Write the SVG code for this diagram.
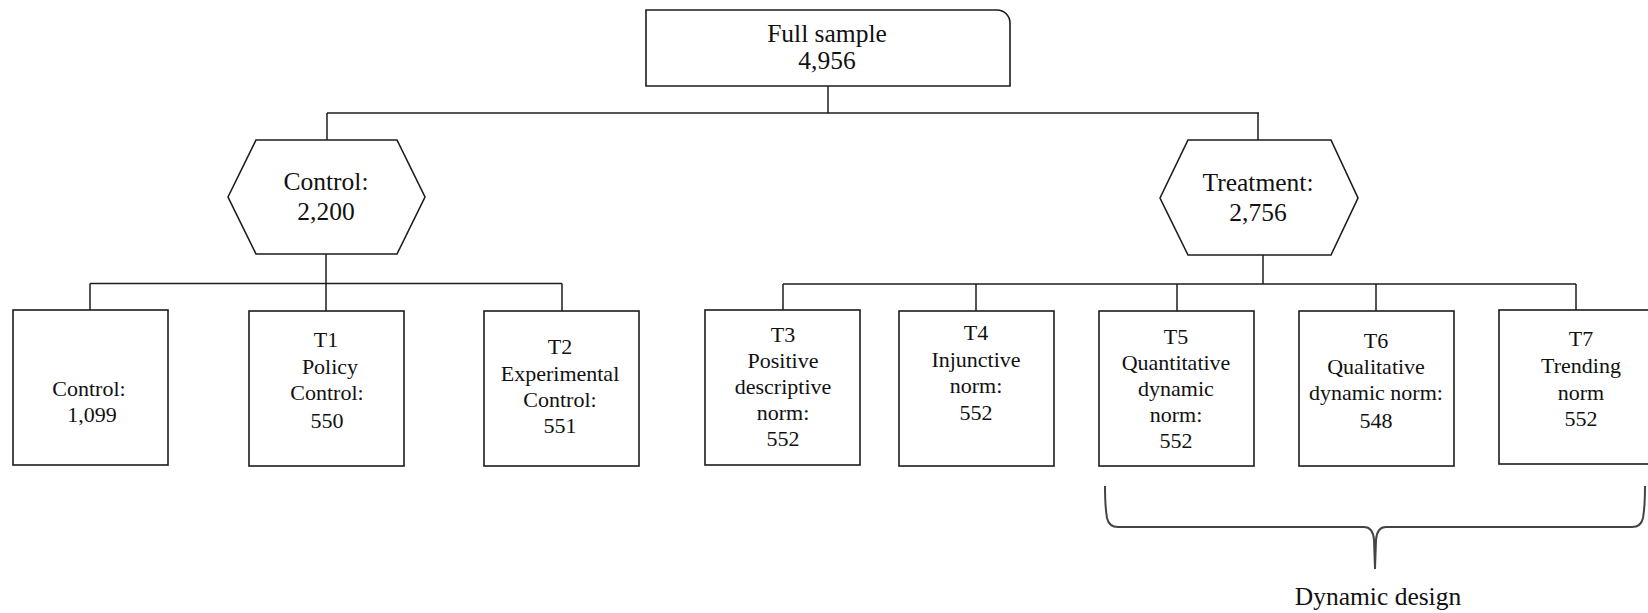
<svg xmlns="http://www.w3.org/2000/svg" width="1648" height="613" viewBox="0 0 1648 613">
<style>
  .shape { fill: #ffffff; stroke: #1c1c1c; stroke-width: 1.6; }
  .conn { fill: none; stroke: #1c1c1c; stroke-width: 1.5; }
  .brace { fill: none; stroke: #444444; stroke-width: 2; }
  text { font-family: "Liberation Serif", "Times New Roman", serif; fill: #111111; text-anchor: middle; }
  .h { font-size: 25.5px; }
  .b { font-size: 22px; }
</style>
<rect width="1648" height="613" fill="#ffffff"/>

<g id="connectors">
  <line class="conn" x1="828" y1="86" x2="828" y2="113"/>
  <line class="conn" x1="327" y1="113" x2="1259" y2="113"/>
  <line class="conn" x1="327" y1="113" x2="327" y2="140"/>
  <line class="conn" x1="1258" y1="113" x2="1258" y2="140"/>
  <line class="conn" x1="326" y1="254" x2="326" y2="311"/>
  <line class="conn" x1="90" y1="283.5" x2="562" y2="283.5"/>
  <line class="conn" x1="90" y1="283.5" x2="90" y2="310"/>
  <line class="conn" x1="562" y1="283.5" x2="562" y2="311"/>
  <line class="conn" x1="1263" y1="255" x2="1263" y2="284"/>
  <line class="conn" x1="783" y1="284" x2="1576" y2="284"/>
  <line class="conn" x1="783" y1="284" x2="783" y2="310"/>
  <line class="conn" x1="976" y1="284" x2="976" y2="311"/>
  <line class="conn" x1="1177" y1="284" x2="1177" y2="311"/>
  <line class="conn" x1="1376" y1="284" x2="1376" y2="311"/>
  <line class="conn" x1="1576" y1="284" x2="1576" y2="310"/>
</g>

<g id="full-sample">
  <path class="shape" d="M646,10 H997 A13,13 0 0 1 1010,23 V86 H646 Z"/>
  <text class="h" x="827" y="42">Full sample</text>
  <text class="h" x="827" y="69">4,956</text>
</g>

<g id="control-group">
  <polygon class="shape" points="228,197 256,140 397,140 425,197 397,254 256,254"/>
  <text class="h" x="326" y="190">Control:</text>
  <text class="h" x="326" y="220">2,200</text>
</g>

<g id="treatment-group">
  <polygon class="shape" points="1160,198 1188,140 1331,140 1358,198 1331,255 1188,255"/>
  <text class="h" x="1258" y="191">Treatment:</text>
  <text class="h" x="1258" y="221">2,756</text>
</g>

<g id="control">
  <rect class="shape" x="13" y="310" width="155" height="155"/>
  <text class="b" x="89" y="396">Control:</text>
  <text class="b" x="92" y="422">1,099</text>
</g>

<g id="t1">
  <rect class="shape" x="249" y="311" width="155" height="155"/>
  <text class="b" x="326" y="347">T1</text>
  <text class="b" x="330" y="374">Policy</text>
  <text class="b" x="327" y="400">Control:</text>
  <text class="b" x="327" y="428">550</text>
</g>

<g id="t2">
  <rect class="shape" x="484" y="311" width="155" height="155"/>
  <text class="b" x="560" y="354">T2</text>
  <text class="b" x="560" y="381">Experimental</text>
  <text class="b" x="560" y="407">Control:</text>
  <text class="b" x="560" y="433">551</text>
</g>

<g id="t3">
  <rect class="shape" x="705" y="310" width="155" height="155"/>
  <text class="b" x="783" y="342">T3</text>
  <text class="b" x="783" y="368">Positive</text>
  <text class="b" x="783" y="394">descriptive</text>
  <text class="b" x="783" y="420">norm:</text>
  <text class="b" x="783" y="446">552</text>
</g>

<g id="t4">
  <rect class="shape" x="899" y="311" width="155" height="155"/>
  <text class="b" x="976" y="340">T4</text>
  <text class="b" x="976" y="367">Injunctive</text>
  <text class="b" x="976" y="393">norm:</text>
  <text class="b" x="976" y="420">552</text>
</g>

<g id="t5">
  <rect class="shape" x="1099" y="311" width="155" height="155"/>
  <text class="b" x="1176" y="344">T5</text>
  <text class="b" x="1176" y="370">Quantitative</text>
  <text class="b" x="1176" y="396">dynamic</text>
  <text class="b" x="1176" y="422">norm:</text>
  <text class="b" x="1176" y="448">552</text>
</g>

<g id="t6">
  <rect class="shape" x="1299" y="311" width="155" height="155"/>
  <text class="b" x="1376" y="348">T6</text>
  <text class="b" x="1376" y="374">Qualitative</text>
  <text class="b" x="1376" y="400">dynamic norm:</text>
  <text class="b" x="1376" y="428">548</text>
</g>

<g id="t7">
  <rect class="shape" x="1499" y="310" width="156" height="154"/>
  <text class="b" x="1581" y="346">T7</text>
  <text class="b" x="1581" y="373">Trending</text>
  <text class="b" x="1581" y="400">norm</text>
  <text class="b" x="1581" y="426">552</text>
</g>

<g id="dynamic-design">
  <path class="brace" d="M1105,486 C1105,500 1106,512 1107,518 Q1109,527 1118,527 H1364 Q1373,527 1374,540 L1375,569"/>
  <path class="brace" d="M1645,486 C1645,500 1644,512 1643,518 Q1641,527 1632,527 H1386 Q1377,527 1376,540 L1375,569"/>
  <text class="h" x="1378" y="605">Dynamic design</text>
</g>
</svg>
